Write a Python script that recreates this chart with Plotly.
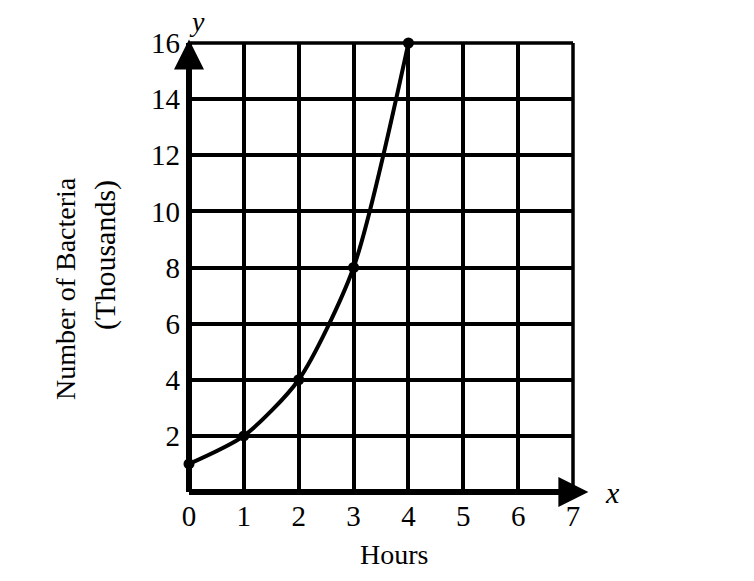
import plotly.graph_objects as go

hours = [0, 1, 2, 3, 4]
bacteria = [1, 2, 4, 8, 16]
x_ticks = [0, 1, 2, 3, 4, 5, 6, 7]
y_ticks = [2, 4, 6, 8, 10, 12, 14, 16]

FONT = "Liberation Serif, Times New Roman, serif"

fig = go.Figure()
fig.add_trace(go.Scatter(
    x=hours, y=bacteria, mode="lines+markers",
    line=dict(color="black", width=4, shape="spline", smoothing=0.7),
    marker=dict(color="black", size=11),
    cliponaxis=False, showlegend=False,
))

fig.update_layout(
    width=754, height=581,
    margin=dict(l=181, r=189, t=35, b=97),
    paper_bgcolor="white", plot_bgcolor="white",
    font=dict(family=FONT, size=28, color="black"),
    xaxis=dict(
        range=[0, 7], tickvals=x_ticks, ticktext=[str(v) for v in x_ticks],
        showgrid=True, gridcolor="black", gridwidth=3.5,
        zeroline=False, showline=False, ticks="", ticklabelstandoff=4,
        tickfont=dict(size=29, family=FONT),
    ),
    yaxis=dict(
        range=[0, 16], tickvals=y_ticks, ticktext=[str(v) for v in y_ticks],
        showgrid=True, gridcolor="black", gridwidth=3.5,
        zeroline=False, showline=False, ticks="", ticklabelstandoff=8,
        tickfont=dict(size=29, family=FONT),
    ),
    shapes=[
        dict(type="line", xref="paper", yref="paper", x0=0, x1=1, y0=1, y1=1,
             line=dict(color="black", width=3.5)),
        dict(type="line", xref="paper", yref="paper", x0=1, x1=1, y0=0, y1=1,
             line=dict(color="black", width=3.5)),
        dict(type="line", xref="paper", yref="paper", x0=0, x1=1, y0=0, y1=0,
             line=dict(color="black", width=6)),
        dict(type="line", xref="paper", yref="paper", x0=0, x1=0, y0=0, y1=1,
             line=dict(color="black", width=6)),
    ],
    annotations=[
        dict(xref="paper", yref="paper", x=1.04, y=0, ax=-40, ay=0,
             showarrow=True, arrowhead=2,
             arrowsize=1.0, arrowwidth=6, arrowcolor="black", text=""),
        dict(xref="paper", yref="paper", x=0, y=1.008, ax=0, ay=40,
             showarrow=True, arrowhead=2,
             arrowsize=1.0, arrowwidth=6, arrowcolor="black", text=""),
        dict(xref="paper", yref="paper", x=1.1016, y=0, text="<i>x</i>",
             xanchor="center", yanchor="middle",
             showarrow=False, font=dict(size=30, family=FONT)),
        dict(xref="paper", yref="paper", x=0.022, y=1.047, text="<i>y</i>",
             xanchor="center", yanchor="middle",
             showarrow=False, font=dict(size=28, family=FONT)),
        dict(xref="paper", yref="paper", x=0.535, y=-0.14, text="Hours",
             xanchor="center", yanchor="middle",
             showarrow=False, font=dict(size=28, family=FONT)),
        dict(xref="paper", yref="paper", x=-0.3229, y=0.452,
             text="Number of Bacteria", textangle=-90,
             xanchor="center", yanchor="middle",
             showarrow=False, font=dict(size=28, family=FONT)),
        dict(xref="paper", yref="paper", x=-0.2188, y=0.528,
             text="(Thousands)", textangle=-90,
             xanchor="center", yanchor="middle",
             showarrow=False, font=dict(size=30, family=FONT)),
    ],
)

fig.write_html("out.html")
